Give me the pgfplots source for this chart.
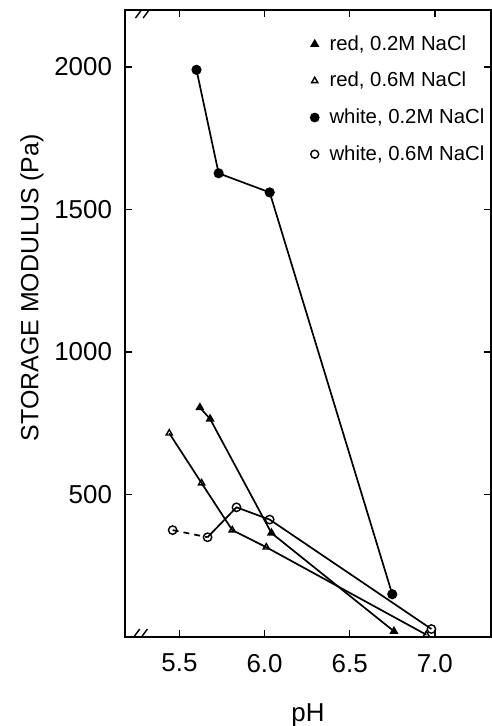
\documentclass[border=0pt]{standalone}
\usepackage{fontspec}
\setmainfont{Liberation Sans}
\usepackage{pgfplots}
\pgfplotsset{compat=1.18}
\begin{document}
\begin{tikzpicture}
\begin{axis}[
  scale only axis, width=183bp, height=313.5bp,
  xmin=5.18, xmax=7.33, ymin=0, ymax=2200,
  xtick={5.5,6.0,6.5,7.0}, ytick={500,1000,1500,2000},
  tick align=inside, major tick length=3.5bp,
  tick style={black, line width=0.7bp},
  axis line style={line width=0.8bp},
  /pgf/number format/assume math mode=true,
  xticklabel style={font=\fontsize{13}{15}\selectfont, yshift=-5bp,
     /pgf/number format/.cd, fixed, fixed zerofill, precision=1},
  yticklabel style={font=\fontsize{13}{15}\selectfont, xshift=-3bp,
     /pgf/number format/.cd, 1000 sep={}},
  xlabel={pH}, ylabel={STORAGE MODULUS (Pa)},
  xlabel style={font=\fontsize{13}{15}\selectfont, at={(axis description cs:0.5,0)}, anchor=center, yshift=-39bp},
  ylabel style={font=\fontsize{12.5}{15}\selectfont, at={([xshift=-46.5bp]axis description cs:0,0.557)}, anchor=center},
  legend style={draw=none, fill=none, at={(axis description cs:0.485,0.973)}, anchor=north west,
     font=\fontsize{10.2}{12}\selectfont, row sep=5.5bp},
  legend cell align=left,
  legend image code/.code={\draw[#1] plot coordinates {(0bp,0bp)}; \path (-2.5bp,0bp) (5bp,0bp);},
  every axis plot/.append style={line width=0.85bp, black},
]
\addlegendimage{only marks, mark=triangle*, mark size=1.8bp}
\addlegendentry{red, 0.2M NaCl}
\addlegendimage{only marks, mark=triangle, mark size=1.8bp, mark options={line width=0.7bp}}
\addlegendentry{red, 0.6M NaCl}
\addlegendimage{only marks, mark=*, mark size=2bp}
\addlegendentry{white, 0.2M NaCl}
\addlegendimage{only marks, mark=o, mark size=2bp, mark options={line width=0.7bp}}
\addlegendentry{white, 0.6M NaCl}

% red, 0.2M NaCl
\addplot[mark=triangle*, mark size=1.8bp, forget plot] coordinates {
 (5.62,805) (5.68,765) (6.04,365) (6.76,20)};
% red, 0.6M NaCl
\addplot[mark=triangle, mark size=1.8bp, mark options={fill=white, line width=0.7bp}, forget plot] coordinates {
 (5.44,715) (5.63,540) (5.81,375) (6.01,315) (6.95,8)};
% white, 0.2M NaCl
\addplot[mark=*, mark size=2.1bp, forget plot] coordinates {
 (5.60,1990) (5.73,1627) (6.03,1560) (6.75,150)};
% white, 0.6M NaCl
\addplot[dashed, dash pattern=on 3bp off 2.5bp, forget plot] coordinates {
 (5.46,375) (5.665,350)};
\addplot[mark=o, mark size=2.1bp, mark options={fill=white, solid, line width=0.7bp}, forget plot] coordinates {
 (5.665,350) (5.835,455) (6.03,412) (6.98,28)};
\addplot[only marks, mark=o, mark size=2.1bp, mark options={fill=white, line width=0.7bp}, forget plot] coordinates {
 (5.46,375)};

% axis break marks
\draw[line width=0.7bp] ([shift={(-3bp,-4bp)}]rel axis cs:0.024,0) -- ++(6bp,8bp);
\draw[line width=0.7bp] ([shift={(-3bp,-4bp)}]rel axis cs:0.045,0) -- ++(6bp,8bp);
\draw[line width=0.7bp] ([shift={(-3bp,-4bp)}]rel axis cs:0.045,1) -- ++(6bp,8bp);
\draw[line width=0.7bp] ([shift={(-3bp,-4bp)}]rel axis cs:0.066,1) -- ++(6bp,8bp);
\coordinate (SW) at (rel axis cs:0,0);
\coordinate (NE) at (rel axis cs:1,1);
\end{axis}
\pgfresetboundingbox
\path ([shift={(-62.5bp,-44.5bp)}]SW) rectangle ([shift={(0.3bp,5bp)}]NE);
\end{tikzpicture}
\end{document}
